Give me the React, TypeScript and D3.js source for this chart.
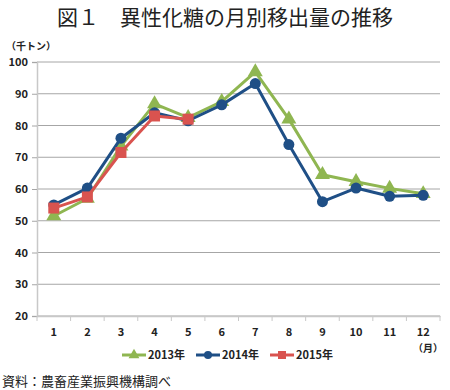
import React, { useEffect, useRef } from "react";
import * as d3 from "d3";

const months = ["1", "2", "3", "4", "5", "6", "7", "8", "9", "10", "11", "12"];
const yTicks = [20, 30, 40, 50, 60, 70, 80, 90, 100];
const s2013 = [51.5, 57, 73.5, 86.8, 82.5, 87.5, 96.9, 82, 64.5, 62.3, 60.2, 58.5];
const s2014 = [55, 60.3, 76, 84, 81.5, 86.5, 93.2, 74, 56, 60.3, 57.7, 58];
const s2015 = [54, 57.5, 71.5, 83, 82];

const series = [
  { name: "2013年", values: s2013, color: "#8fb651", shape: "triangle" },
  { name: "2014年", values: s2014, color: "#1f4f86", shape: "circle" },
  { name: "2015年", values: s2015, color: "#d9534f", shape: "square" },
];

const font = "'Noto Sans CJK JP', 'Noto Sans', sans-serif";

function App() {
  const ref = useRef<SVGSVGElement>(null);

  useEffect(() => {
    const svg = d3.select(ref.current);
    svg.selectAll("*").remove();

    const left = 37, right = 440, top = 62, bottom = 316;
    const x = d3.scaleBand().domain(months).range([left, right]);
    const y = d3.scaleLinear().domain([20, 100]).range([bottom, top]);

    svg.append("text")
      .attr("x", 225).attr("y", 25)
      .attr("text-anchor", "middle")
      .style("font-family", font).style("font-size", "21px").style("font-weight", 400)
      .attr("fill", "#222")
      .text("図１　異性化糖の月別移出量の推移");

    svg.append("text")
      .attr("x", 6).attr("y", 50)
      .style("font-family", font).style("font-size", "10px").style("font-weight", "bold")
      .attr("fill", "#222")
      .text("（千トン）");

    // gridlines
    svg.append("g").selectAll("line").data(yTicks).join("line")
      .attr("x1", left).attr("x2", right)
      .attr("y1", d => y(d)).attr("y2", d => y(d))
      .attr("stroke", "#a6a6a6").attr("stroke-width", 1);

    // y axis
    const ya = svg.append("g").attr("transform", `translate(${left},0)`)
      .call(d3.axisLeft(y).tickValues(yTicks).tickSize(5).tickPadding(4));
    ya.select(".domain").attr("stroke", "#c8c8c8").attr("stroke-width", 1.5);
    ya.selectAll(".tick line").attr("stroke", "#a6a6a6");
    ya.selectAll("text").style("font-family", font).style("font-size", "11px")
      .style("font-weight", "bold").attr("fill", "#222");

    // x axis
    const xa = svg.append("g").attr("transform", `translate(0,${bottom})`)
      .call(d3.axisBottom(x).tickSize(0).tickPadding(12));
    xa.select(".domain").attr("stroke", "#c8c8c8").attr("stroke-width", 1.5);
    xa.selectAll("text").style("font-family", font).style("font-size", "11px")
      .style("font-weight", "bold").attr("fill", "#222");
    xa.selectAll(".sep").data(d3.range(months.length + 1)).join("line")
      .attr("class", "sep")
      .attr("x1", i => left + i * x.step()).attr("x2", i => left + i * x.step())
      .attr("y1", 0).attr("y2", 5)
      .attr("stroke", "#c8c8c8");

    svg.append("text")
      .attr("x", 443).attr("y", 352).attr("text-anchor", "end")
      .style("font-family", font).style("font-size", "10px").style("font-weight", "bold")
      .attr("fill", "#222")
      .text("（月）");

    const line = d3.line<number>()
      .x((_, i) => (x(months[i]) as number) + x.bandwidth() / 2)
      .y(d => y(d));

    const drawMarker = (g: any, shape: string, cx: number, cy: number, color: string, s: number) => {
      if (shape === "circle") {
        g.append("circle").attr("cx", cx).attr("cy", cy).attr("r", s).attr("fill", color);
      } else if (shape === "square") {
        g.append("rect").attr("x", cx - s).attr("y", cy - s).attr("width", 2 * s).attr("height", 2 * s).attr("fill", color);
      } else {
        const sym = d3.symbol().type(d3.symbolTriangle).size(s * s * 3.2);
        g.append("path").attr("d", sym()).attr("transform", `translate(${cx},${cy})`).attr("fill", color);
      }
    };

    series.forEach(s => {
      const g = svg.append("g");
      g.append("path").attr("d", line(s.values))
        .attr("fill", "none").attr("stroke", s.color).attr("stroke-width", 3)
        .attr("stroke-linejoin", "round");
      s.values.forEach((v, i) => {
        drawMarker(g, s.shape, (x(months[i]) as number) + x.bandwidth() / 2, y(v), s.color, 5.5);
      });
    });

    // legend
    const legX = [122, 196, 270];
    series.forEach((s, i) => {
      const g = svg.append("g");
      const lx = legX[i];
      g.append("line").attr("x1", lx).attr("x2", lx + 24).attr("y1", 355).attr("y2", 355)
        .attr("stroke", s.color).attr("stroke-width", 3);
      drawMarker(g, s.shape, lx + 12, 355, s.color, 4);
      g.append("text").attr("x", lx + 26).attr("y", 359)
        .style("font-family", font).style("font-size", "11px").style("font-weight", "bold")
        .attr("fill", "#222").text(s.name);
    });

    svg.append("text")
      .attr("x", 2).attr("y", 386)
      .style("font-family", font).style("font-size", "13px")
      .attr("fill", "#222")
      .text("資料：農畜産業振興機構調べ");
  }, []);

  return (
    <svg ref={ref} width={450} height={390}
      style={{ position: "absolute", left: 0, top: 0, background: "#fff" }} />
  );
}

export default App;
